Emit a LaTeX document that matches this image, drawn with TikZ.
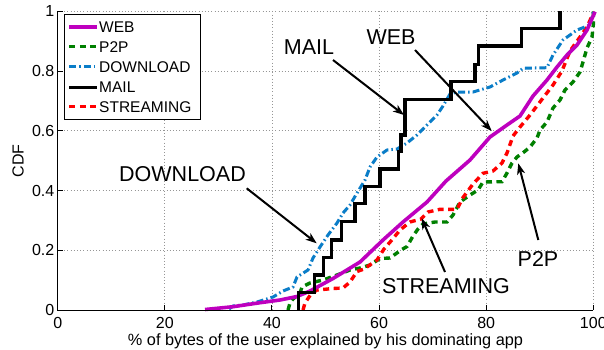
\documentclass[tikz,border=0pt]{standalone}
\usepackage{fontspec}
\setmainfont{Liberation Sans}
\usetikzlibrary{arrows.meta}
\definecolor{webc}{RGB}{190,0,190}
\definecolor{p2pc}{RGB}{0,128,0}
\definecolor{dlc}{RGB}{10,125,200}
\definecolor{strc}{RGB}{255,0,0}
\definecolor{gridc}{RGB}{150,150,150}
\tikzset{
  gridline/.style={gridc, line width=0.7pt, dash pattern=on 1pt off 2.2pt},
  axisline/.style={black, line width=1pt},
  webline/.style={webc, line width=3.6pt, line join=round},
  p2pline/.style={p2pc, line width=3.4pt, dash pattern=on 6pt off 4.5pt},
  dlline/.style={dlc, line width=3pt, dash pattern=on 7pt off 3pt on 1.5pt off 3pt},
  mailline/.style={black, line width=3.4pt},
  strline/.style={strc, line width=3.4pt, dash pattern=on 6pt off 4.5pt},
  annot/.style={black, line width=2pt, -{Stealth[length=11pt,width=8pt,inset=3pt]}},
  annlabel/.style={font=\fontsize{21.5}{24}\selectfont, inner sep=0pt},
  ticklabel/.style={font=\fontsize{16}{18}\selectfont, inner sep=0pt},
  leglabel/.style={font=\fontsize{15.5}{17}\selectfont, inner sep=0pt, anchor=west},
}
\begin{document}
\begin{tikzpicture}[x=1pt,y=-1pt]
\useasboundingbox[fill=white] (0,0) rectangle (604,349);
% grid
\foreach \gx in {164.8,271.9,379.0,486.2,593.3}
  \draw[gridline] (\gx,11.3) -- (\gx,310);
\foreach \gy in {250.3,190.5,130.8,71.1,11.3}
  \draw[gridline] (57.7,\gy) -- (593.3,\gy);
% curves
\draw[p2pline] (288,310)--(290,303)--(293,299)--(300,293)--(302,287)--(310,283)--(323,280)--(337,275)--(350,270)--(360,268)--(370,265)--(380,258.5)--(390,258)--(401,250)--(407,246.5)--(413,236)--(418,229)--(423,224)--(435,222)--(447,222)--(453,215)--(460,202)--(470,195)--(478,190)--(483,182)--(502,181.7)--(507,173)--(512,163)--(517,157)--(524,152)--(530,147)--(537,138)--(540,130)--(547,122)--(553,108)--(560,100)--(565,90)--(573,82)--(580,72)--(583,62)--(587,48)--(592,37)--(593.3,25)--(593.3,11.7);
\draw[strline] (303,310)--(305,303)--(311,294)--(317,290)--(333,288.5)--(343,288)--(350,282)--(357,271.5)--(364,269)--(377,260)--(384,249)--(391,241)--(400,230)--(410,222)--(421,219)--(428,212)--(440,209.3)--(457,209.3)--(463,197.5)--(473,184)--(483,173.3)--(493,171)--(502,163)--(507,153)--(513,136)--(520,127)--(530,115)--(543,98)--(553,85)--(562,71)--(570,51)--(580,37)--(587,27)--(593.3,13);
\draw[dlline] (229,309)--(233,306)--(243,305)--(257,302)--(273,297)--(283,291)--(293,287)--(297,277)--(308,270)--(313,258)--(320,247)--(328,235)--(337,223)--(343,213)--(350,205)--(357,193)--(365,180)--(370,167)--(377,157)--(387,150)--(397,149)--(407,143)--(417,135)--(427,125)--(437,115)--(443,106)--(450,94)--(457,92)--(473,92)--(490,87)--(503,80)--(517,73)--(523,68.3)--(547,67.7)--(553,55)--(563,40)--(577,30)--(590,25)--(593.3,11.7);
\draw[webline] (205,309.5)--(233,306.7)--(260,302.7)--(280,300)--(297,296.5)--(310,291)--(333,278.5)--(360,262)--(383,240)--(403,222)--(427,202)--(446,181)--(470,160)--(490,137)--(507,125)--(520,116)--(533,96)--(547,80)--(557,67)--(567,55)--(577,45)--(587,30)--(595,11.7);
\draw[mailline] (298.3,310)--(298.3,292.7)--(314.3,292.7)--(314.3,275)--(323.3,275)--(323.3,257.3)--(331.7,257.3)--(331.7,240)--(341.7,240)--(341.7,221.7)--(355,221.7)--(355,203.3)--(365,203.3)--(365,186.7)--(380,186.7)--(380,169)--(398.3,169)--(398.3,151.7)--(401,151.7)--(401,135)--(405,135)--(405,99.3)--(451,99.3)--(451,81.7)--(475,81.7)--(475,64.3)--(478.3,64.3)--(478.3,46)--(521.7,46)--(521.7,28.3)--(560,28.3)--(560,11.3);
% axes
\draw[axisline] (57.7,11.3) -- (57.7,310) -- (593.3,310);
\foreach \gx in {57.7,164.8,271.9,379.0,486.2,593.3}
  \draw[axisline] (\gx,310) -- (\gx,305);
\foreach \gy in {310,250.3,190.5,130.8,71.1,11.3}
  \draw[axisline] (57.7,\gy) -- (62.7,\gy);
% tick labels
\foreach \gx/\lab in {57.7/0,164.8/20,271.9/40,379.0/60,486.2/80,593.3/100}
  \node[ticklabel, anchor=base] (xt\lab) at (\gx,328.5) {\lab};
\foreach \gy/\lab/\nm in {310/0/a,250.3/0.2/b,190.5/0.4/c,130.8/0.6/d,71.1/0.8/e,11.3/1/f}
  \node[ticklabel, anchor=east] (yt\nm) at (54.5,\gy) {\lab};
\node[ticklabel, anchor=base, font=\fontsize{16.3}{18}\selectfont] (xlab) at (325.5,345) {\% of bytes of the user explained by his dominating app};
\node[ticklabel, rotate=90] (ylab) at (18,161) {CDF};
% legend
\draw[fill=white, line width=1pt] (64,14) rectangle (200,119.3);
\draw[webline] (69.3,26.7) -- (96.7,26.7);
\node[leglabel] (lweb) at (99,26.7) {WEB};
\draw[p2pline] (69.3,46.7) -- (96.7,46.7);
\node[leglabel] (lp2p) at (99,46.7) {P2P};
\draw[dlline] (69.3,66.7) -- (96.7,66.7);
\node[leglabel] (ldl) at (99,66.7) {DOWNLOAD};
\draw[mailline] (69.3,87.3) -- (96.7,87.3);
\node[leglabel] (lmail) at (99,87.3) {MAIL};
\draw[strline] (69.3,106.7) -- (96.7,106.7);
\node[leglabel] (lstr) at (99,106.7) {STREAMING};
% annotations
\node[annlabel] (amail) at (309,47) {MAIL};
\node[annlabel] (aweb) at (391,37) {WEB};
\node[annlabel] (adl) at (182.5,174) {DOWNLOAD};
\node[annlabel] (astr) at (446,286) {STREAMING};
\node[annlabel] (ap2p) at (538,258.5) {P2P};
\coordinate (mailS) at (333,60);   \coordinate (mailT) at (404,115);
\coordinate (webS) at (415,50);    \coordinate (webT) at (491.7,131);
\coordinate (dlS) at (246.7,188.3); \coordinate (dlT) at (316.7,243.3);
\coordinate (strS) at (445,272);   \coordinate (strT) at (421.7,218.3);
\coordinate (p2pS) at (538.3,240); \coordinate (p2pT) at (518.3,163.3);
\draw[annot] (mailS) -- (mailT);
\draw[annot] (webS) -- (webT);
\draw[annot] (dlS) -- (dlT);
\draw[annot] (strS) -- (strT);
\draw[annot] (p2pS) -- (p2pT);
\end{tikzpicture}
\end{document}
